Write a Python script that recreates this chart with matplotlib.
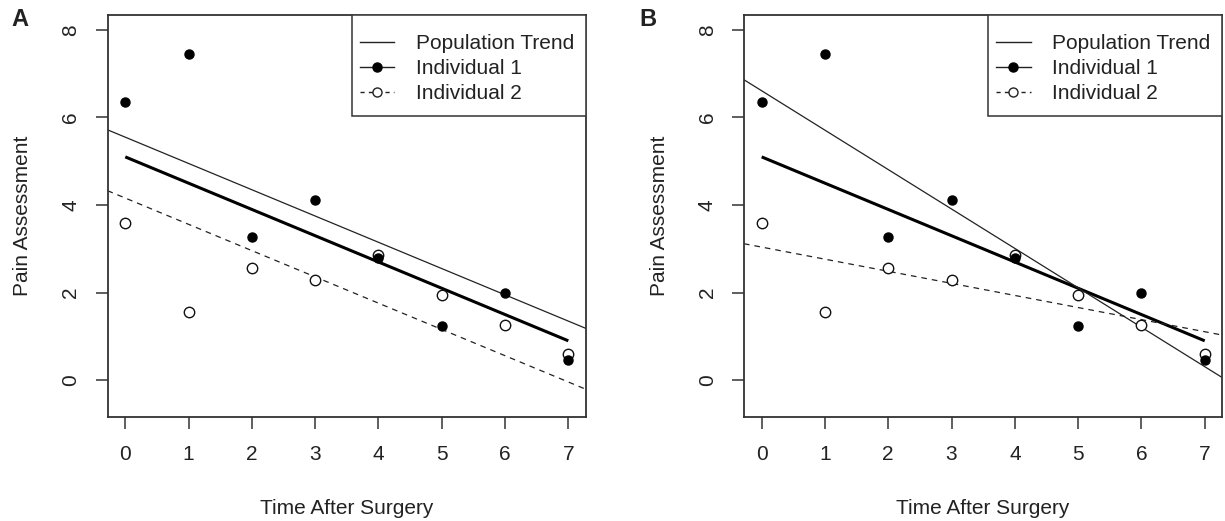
import numpy as np
import matplotlib.pyplot as plt
from matplotlib.lines import Line2D
from matplotlib.patches import Rectangle

plt.rcParams['font.family'] = ['Liberation Sans', 'DejaVu Sans']

# Observed pain scores for two individuals
time = [0, 1, 2, 3, 4, 5, 6, 7]
ind1 = [6.35, 7.45, 3.27, 4.11, 2.78, 1.23, 2.0, 0.46]
ind2 = [3.59, 1.55, 2.56, 2.29, 2.85, 1.94, 1.26, 0.6]

# Population trend (fixed effects), drawn over the observed times
pop_intercept = 5.1
pop_slope = -0.6

# Individual fitted lines: A = random intercept, B = random intercept + slope
panels = ['A', 'B']
ind1_fit = [(5.55, -0.6), (6.61, -0.9)]
ind2_fit = [(4.16, -0.6), (3.04, -0.276)]

fig = plt.figure(figsize=(12.25, 5.21), dpi=100)
lefts = [0.0878, 0.6073]
edge = '#333333'
fs = 15

for k, name in enumerate(panels):
    ax = fig.add_axes([lefts[k], 0.1996, 0.3906, 0.7716])
    t = np.array(time)
    ax.plot(t, pop_intercept + pop_slope * t, color='black', lw=2.2, solid_capstyle='butt')
    ax.axline((0, ind1_fit[k][0]), slope=ind1_fit[k][1], color='#222222', lw=0.9)
    ax.axline((0, ind2_fit[k][0]), slope=ind2_fit[k][1], color='#222222', lw=0.9,
              dashes=(4.5, 4))
    ax.plot(time, ind2, 'o', mfc='white', mec='#111111', mew=1.0, ms=7.5, ls='none')
    ax.plot(time, ind1, 'o', color='black', ms=6.5, ls='none')

    ax.set_xlim(-0.28, 7.28)
    ax.set_ylim(-0.84, 8.34)
    ax.set_xticks(range(8))
    ax.set_yticks([0, 2, 4, 6, 8])
    for s in ax.spines.values():
        s.set_color(edge)
        s.set_linewidth(1.3)
    ax.tick_params(length=8.5, width=1.1, color=edge, labelsize=fs, labelcolor='#222222')
    ax.tick_params(axis='x', pad=12)
    ax.tick_params(axis='y', pad=11)
    for lab in ax.get_yticklabels():
        lab.set_rotation(90)
        lab.set_va('center')
    ax.set_xlabel('Time After Surgery', fontsize=fs, color='#222222', labelpad=25)
    ax.set_ylabel('Pain Assessment', fontsize=fs, color='#222222', labelpad=21)

    # legend box in R style: tight at the sides, roomy top and bottom
    ax.add_patch(Rectangle((0.511, 0.749), 0.489, 0.251, transform=ax.transAxes,
                           facecolor='white', edgecolor=edge, lw=1.1, zorder=4))
    handles = [
        Line2D([], [], color='#222222', lw=1.0),
        Line2D([], [], color='#222222', lw=1.0, marker='o', ms=6.5, mfc='black', mec='black'),
        Line2D([], [], color='#222222', lw=1.0, dashes=(3, 3), marker='o', ms=6.5,
               mfc='white', mec='#222222'),
    ]
    leg = ax.legend(handles, ['Population Trend', 'Individual 1', 'Individual 2'],
                    loc='upper right', bbox_to_anchor=(0.993, 0.973), borderaxespad=0,
                    frameon=False, fontsize=fs, handlelength=1.65, handletextpad=1.05,
                    labelspacing=0.29, borderpad=0.4, numpoints=1)
    leg.set_zorder(5)
    for txt in leg.get_texts():
        txt.set_color('#222222')

fig.text(20 / 1225, 1 - 20 / 521, 'A', fontsize=17, fontweight='bold', ha='center', va='center',
         color='#222222')
fig.text(648 / 1225, 1 - 20 / 521, 'B', fontsize=17, fontweight='bold', ha='center', va='center',
         color='#222222')

fig.savefig('out.png', dpi=100)
